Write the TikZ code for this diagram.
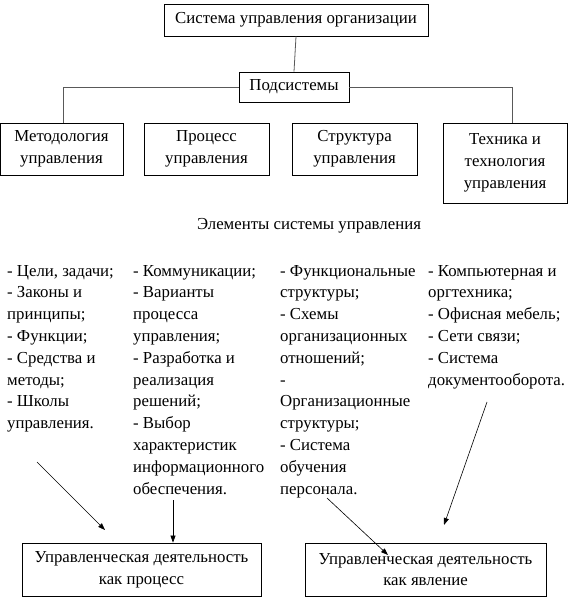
\documentclass[tikz,border=0pt]{standalone}
\usepackage{fontspec}
\setmainfont{Liberation Serif}
\usetikzlibrary{arrows.meta}

\begin{document}
\begin{tikzpicture}[x=1pt, y=-1pt,
		txt/.style={font=\fontsize{16.8}{21.8}\selectfont},
		box/.style={txt, draw=black, line width=0.8pt, align=center, inner sep=0pt},
		col/.style={txt, align=left, inner sep=0pt, anchor=base west},
		link/.style={draw=black!65, line width=0.8pt},
		ptr/.style={draw=black, line width=0.6pt, -{Triangle[length=7pt,width=5pt]}}]
			%%%%% START %%%%%
			\useasboundingbox (0, 0) rectangle (572, 601);
			
			\node[box, minimum width=264, minimum height=32] (sys) at (296, 20) {Система управления организации};
			\node[box, minimum width=110, minimum height=30] (sub) at (294, 87) {Подсистемы};
			
			\node[box, minimum width=123, minimum height=52] (metod) at (61.5, 149) {Методология\\управления};
			\node[box, minimum width=125, minimum height=52] (proc) at (206.5, 149) {Процесс\\управления};
			\node[box, minimum width=125, minimum height=52] (struct) at (354.5, 149) {Структура\\управления};
			\node[box, minimum width=124, minimum height=80] (tech) at (505, 163) {Техника и\\технология\\управления};
			
			\draw[link] (sys.south) -- (sub.north);
			\draw[link] (sub.west) -| ([xshift=1.5]metod.north);
			\draw[link] (sub.east) -| ([xshift=7]tech.north);
			
			\node[txt] (elem) at (309, 226) {Элементы системы управления};
			
			% columns, anchored at the baseline of their last line
			\node[col] (c1) at (7, 428.6) {- Цели, задачи;\\- Законы и\\принципы;\\- Функции;\\- Средства и\\методы;\\- Школы\\управления.};
			\node[col] (c2) at (133, 494) {- Коммуникации;\\- Варианты\\процесса\\управления;\\- Разработка и\\реализация\\решений;\\- Выбор\\характеристик\\информационного\\обеспечения.};
			\node[col] (c3) at (280, 494) {- Функциональные\\структуры;\\- Схемы\\организационных\\отношений;\\-\\Организационные\\структуры;\\- Система\\обучения\\персонала.};
			\node[col] (c4) at (428, 385) {- Компьютерная и\\оргтехника;\\- Офисная мебель;\\- Сети связи;\\- Система\\документооборота.};
			
			\node[box, minimum width=239, minimum height=53] (actproc) at (141.5, 569.5) {Управленческая деятельность\\как процесс};
			\node[box, minimum width=241, minimum height=53] (actphen) at (425.5, 569.5) {Управленческая деятельность\\как явление};
			
			% arrows
			\coordinate (p1) at (37, 462);
			\coordinate (q1) at (105, 530);
			\coordinate (p2) at (173, 500);
			\coordinate (p3) at (327, 498);
			\coordinate (q3) at (388, 555);
			\coordinate (p4) at (487, 402);
			\coordinate (q4) at (444, 525);
			
			\draw[ptr] (p1) -- (q1);
			\draw[ptr] (p2) -- (p2 |- actproc.north);
			\draw[ptr] (p3) -- (q3);
			\draw[ptr] (p4) -- (q4);
			
			%%%%% END %%%%%
\end{tikzpicture}
\end{document}
